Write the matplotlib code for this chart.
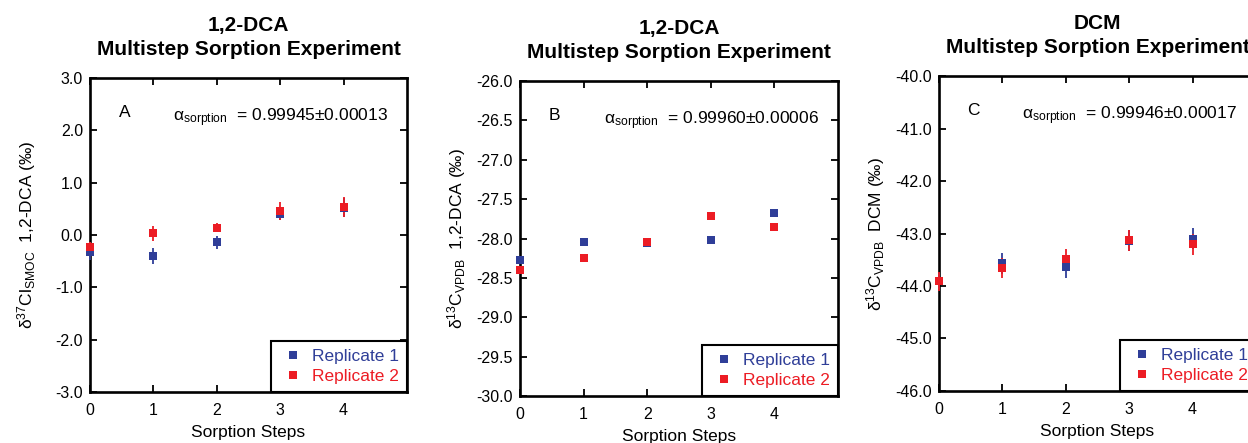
import matplotlib
matplotlib.use('Agg')
import matplotlib.pyplot as plt
from matplotlib.lines import Line2D

plt.rcParams['font.family'] = ['Liberation Sans', 'DejaVu Sans']
plt.rcParams['mathtext.fontset'] = 'custom'
plt.rcParams['mathtext.rm'] = 'Liberation Sans'
plt.rcParams['mathtext.it'] = 'Liberation Sans:italic'
plt.rcParams['mathtext.default'] = 'regular'

# ---------------- data ----------------
steps = [0, 1, 2, 3, 4]

# Panel A: delta37Cl 1,2-DCA
a_rep1 = [-0.32, -0.40, -0.14, 0.41, 0.52]
a_rep1_err = [0.15, 0.16, 0.12, 0.13, 0.18]
a_rep2 = [-0.23, 0.03, 0.14, 0.46, 0.53]
a_rep2_err = [0.10, 0.14, 0.09, 0.18, 0.19]

# Panel B: delta13C 1,2-DCA
b_rep1 = [-28.27, -28.05, -28.06, -28.02, -27.67]
b_rep2 = [-28.40, -28.25, -28.04, -27.72, -27.86]

# Panel C: delta13C DCM
c_rep1 = [-43.91, -43.57, -43.64, -43.14, -43.10]
c_rep1_err = [0.15, 0.20, 0.20, 0.20, 0.20]
c_rep2 = [-43.91, -43.65, -43.48, -43.13, -43.20]
c_rep2_err = [0.18, 0.19, 0.19, 0.20, 0.20]

titles = [("1,2-DCA", "Multistep Sorption Experiment"),
          ("1,2-DCA", "Multistep Sorption Experiment"),
          ("DCM", "Multistep Sorption Experiment")]
panel_letters = ["A", "B", "C"]
alpha_texts = ["α$_{sorption}$  = 0.99945±0.00013",
               "α$_{sorption}$  = 0.99960±0.00006",
               "α$_{sorption}$  = 0.99946±0.00017"]
ylabels = ["δ$^{37}$Cl$_{SMOC}$  1,2-DCA (‰)",
           "δ$^{13}$C$_{VPDB}$  1,2-DCA (‰)",
           "δ$^{13}$C$_{VPDB}$  DCM (‰)"]
yticks_list = [[3.0, 2.0, 1.0, 0.0, -1.0, -2.0, -3.0],
               [-26.0, -26.5, -27.0, -27.5, -28.0, -28.5, -29.0, -29.5, -30.0],
               [-40.0, -41.0, -42.0, -43.0, -44.0, -45.0, -46.0]]
xlabel = "Sorption Steps"
legend_labels = ["Replicate 1", "Replicate 2"]

BLUE = '#2f3e98'
RED = '#ec1c24'

fig = plt.figure(figsize=(12.48, 4.43), dpi=100)
positions = [[0.0721, 0.1151, 0.2540, 0.7088],
             [0.4167, 0.1061, 0.2548, 0.7110],
             [0.7524, 0.1174, 0.2540, 0.7110]]

series = [
    (a_rep1, a_rep1_err, a_rep2, a_rep2_err),
    (b_rep1, None, b_rep2, None),
    (c_rep1, c_rep1_err, c_rep2, c_rep2_err),
]

for i, pos in enumerate(positions):
    ax = fig.add_axes(pos)
    r1, e1, r2, e2 = series[i]
    for vals, errs, col in [(r1, e1, BLUE), (r2, e2, RED)]:
        ax.errorbar(steps, vals, yerr=errs, fmt='s', color=col, ecolor=col,
                    markersize=5.5, elinewidth=1.3, capsize=3.2, capthick=1.3,
                    markeredgewidth=0, clip_on=False, zorder=3)
    yt = yticks_list[i]
    ax.set_xlim(0, 5)
    ax.set_ylim(min(yt), max(yt))
    ax.set_xticks(steps)
    ax.set_xticklabels([str(s) for s in steps])
    ax.set_yticks(yt)
    ax.set_yticklabels([f"{v:.1f}" for v in yt])
    ax.tick_params(direction='in', length=5, width=1.3, top=True, right=True,
                   labelsize=11.5)
    ax.tick_params(axis='x', pad=8)
    ax.tick_params(axis='y', pad=5)
    for sp in ax.spines.values():
        sp.set_linewidth(1.9)

    ax.text(0.5, 1.168, titles[i][0], transform=ax.transAxes, ha='center',
            va='center', fontsize=15, fontweight='bold')
    ax.text(0.5, 1.09, titles[i][1], transform=ax.transAxes, ha='center',
            va='center', fontsize=15, fontweight='bold')
    ax.text(0.09, 0.89, panel_letters[i], transform=ax.transAxes, ha='left',
            va='center', fontsize=12.5)
    ax.text(0.94, 0.875, alpha_texts[i], transform=ax.transAxes, ha='right',
            va='center', fontsize=12.5)
    ax.text(-0.2, 0.5, ylabels[i], transform=ax.transAxes, ha='center',
            va='center', rotation=90, fontsize=12.5)
    ax.text(0.5, -0.13, xlabel, transform=ax.transAxes, ha='center',
            va='center', fontsize=12.5)

    handles = [Line2D([], [], marker='s', linestyle='none', color=BLUE,
                      markersize=5.5, markeredgewidth=0),
               Line2D([], [], marker='s', linestyle='none', color=RED,
                      markersize=5.5, markeredgewidth=0)]
    leg = ax.legend(handles, legend_labels, loc='lower right',
                    bbox_to_anchor=(1, 0), borderaxespad=0, frameon=True,
                    fancybox=False, edgecolor='black', framealpha=1,
                    handlelength=1.6, handletextpad=0.3, borderpad=0.45,
                    labelspacing=0.3, fontsize=12.5)
    leg.get_frame().set_linewidth(1.5)
    for t, c in zip(leg.get_texts(), [BLUE, RED]):
        t.set_color(c)

fig.savefig('out.png', dpi=100)
